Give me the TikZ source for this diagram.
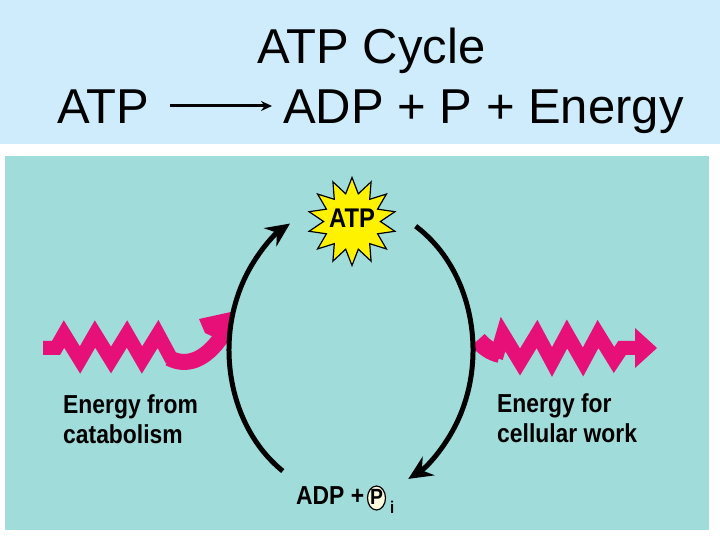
\documentclass[tikz,border=0pt]{standalone}
\usepackage{fontspec}
\setmainfont{Liberation Sans}
\newfontfamily\condbold[FakeStretch=0.88]{Liberation Sans Bold}
\usetikzlibrary{arrows.meta,shapes.geometric}
\definecolor{topblue}{RGB}{206,236,251}
\definecolor{teal}{RGB}{160,220,218}
\definecolor{zigmag}{RGB}{230,16,120}
\definecolor{pcream}{RGB}{252,250,220}
\tikzset{
  head/.style={inner sep=0, font=\fontsize{49}{55}\selectfont},
  lbl/.style={inner sep=0, anchor=base west, font=\condbold\fontsize{26}{30}\selectfont},
  cyc/.style={line width=5pt, -{Stealth[length=24pt,width=22pt,inset=8pt]}},
  zig/.style={draw=zigmag, line width=14pt, line join=miter, miter limit=10},
}
\begin{document}
\begin{tikzpicture}[x=1pt,y=1pt]
\useasboundingbox (0,0) rectangle (720,540);
\fill[white] (0,0) rectangle (720,540);
\fill[topblue] (0,396) rectangle (720,540);
\fill[teal] (5,10) rectangle (709,384);
% header
\node[head, anchor=base] (title) at (371.5,476) {ATP Cycle};
\node[head, anchor=base west] (hatp) at (57,416) {ATP};
\node[head, anchor=base west] (hadp) at (283,416) {ADP + P + Energy};
\draw[line width=3pt, -{Stealth[length=11pt,width=10pt]}] (170,434) -- (272,434);
% left zigzag
\draw[zig] (43,192) -- (56,192) -- (64,206) -- (80,180) -- (95,206) -- (111,180) -- (127,206) -- (142,180) -- (158,206) -- (172,180);
\draw[zigmag, line width=16pt] (169,182) .. controls (186,173) and (205,179) .. (222,204);
\fill[zigmag] (199,221) -- (231,228) -- (231,195) -- (205,207) -- cycle;
% right zigzag
\draw[zigmag, line width=18pt] (478,200) .. controls (484,193) and (491,188) .. (500,186);
\draw[zig] (496,182) -- (503,206) -- (520,178) -- (537,206) -- (552,178) -- (567,206) -- (583,178) -- (598,206) -- (614,180) -- (622,192) -- (637,192);
\fill[zigmag] (635,212) -- (657,192) -- (635,172) -- cycle;
% cycle arcs
\coordinate (cc) at (351,190);
\draw[cyc] ([shift={(236:122 and 146)}]cc) arc[start angle=236, end angle=120, x radius=122, y radius=146];
\draw[cyc] ([shift={(58:122 and 146)}]cc) arc[start angle=58, end angle=-62, x radius=122, y radius=146];
% star
\node[star, star points=14, star point ratio=1.55, minimum size=88pt, fill=yellow, draw=black, line width=1.2pt, inner sep=0] (star) at (352,318.5) {};
\node[inner sep=0, anchor=base, font=\condbold\fontsize{27}{30}\selectfont] (atp) at (352,312) {ATP};
% labels
\node[lbl] (ef1) at (63,126) {Energy from};
\node[lbl] (ef2) at (63,96) {catabolism};
\node[lbl] (ew1) at (497,127) {Energy for};
\node[lbl] (ew2) at (497,97) {cellular work};
\node[lbl] (adp) at (296,35) {ADP +};
\node[ellipse, draw=black, line width=1.2pt, fill=pcream, minimum width=18pt, minimum height=24pt, inner sep=0] (pc) at (376.5,42) {};
\node[inner sep=0, anchor=base, font=\condbold\fontsize{22}{26}\selectfont] (pp) at (376.5,35) {P};
\node[inner sep=0, anchor=base west, font=\condbold\fontsize{17}{20}\selectfont] (sub) at (390,26) {i};
\end{tikzpicture}
\end{document}
